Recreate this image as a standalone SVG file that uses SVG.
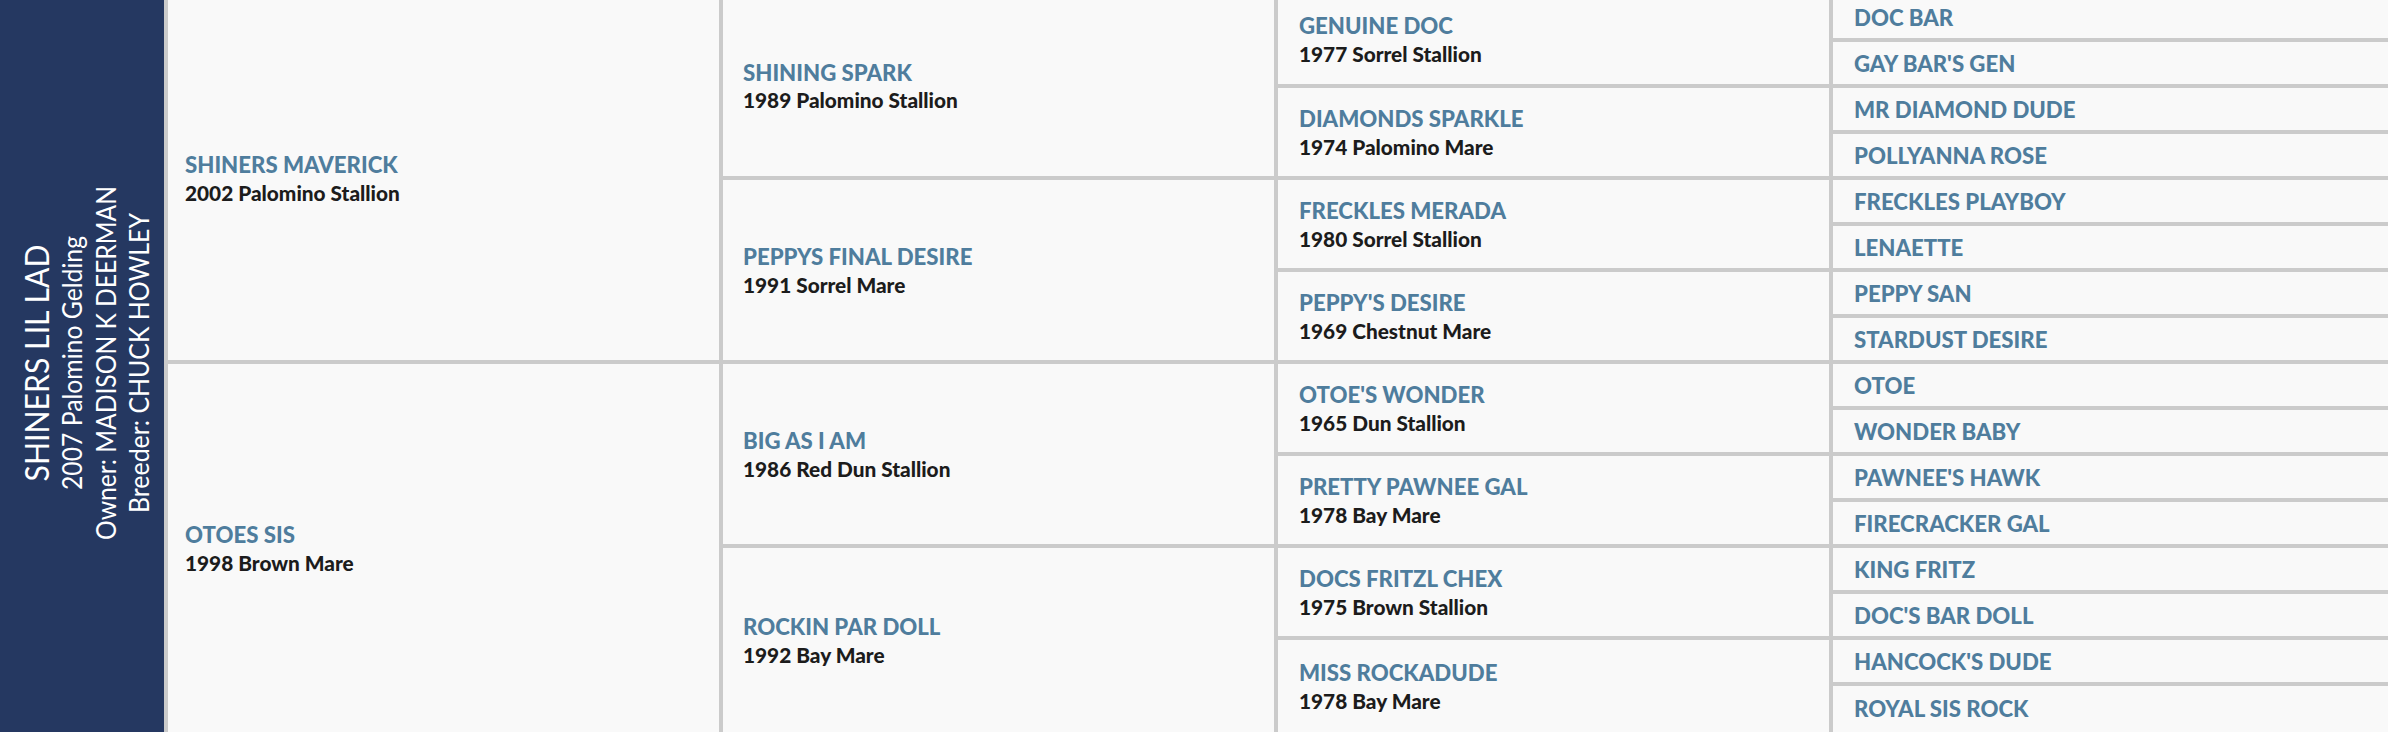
<svg xmlns="http://www.w3.org/2000/svg" width="2388" height="732" viewBox="0 0 2388 732">
<style>
.bg{fill:#f9f9f9}
.ln{fill:#cbcbcb}
.nm{font-family:Lato,"Noto Sans",sans-serif;font-weight:900;font-size:22.2px;fill:#4f7d9d}
.sb{font-family:Lato,"Noto Sans",sans-serif;font-weight:900;font-size:20.8px;fill:#1c1c1c}
.pt{font-family:Lato,"Open Sans",sans-serif;font-weight:400;fill:#ffffff;text-anchor:middle}
</style>
<rect class="bg" x="0" y="0" width="2388" height="732"/>
<g id="subject">
<rect x="0" y="0" width="164" height="732" fill="#253861"/>
<text class="pt" font-size="33" transform="translate(49,363) rotate(-90)" textLength="237" lengthAdjust="spacingAndGlyphs">SHINERS LIL LAD</text>
<text class="pt" font-size="26" transform="translate(82,363) rotate(-90)" textLength="254" lengthAdjust="spacingAndGlyphs">2007 Palomino Gelding</text>
<text class="pt" font-size="27" transform="translate(116,363) rotate(-90)" textLength="354" lengthAdjust="spacingAndGlyphs">Owner: MADISON K DEERMAN</text>
<text class="pt" font-size="27" transform="translate(149,363) rotate(-90)" textLength="300" lengthAdjust="spacingAndGlyphs">Breeder: CHUCK HOWLEY</text>
</g>
<g id="grid">
<rect class="ln" x="164" y="0" width="4" height="732"/>
<rect class="ln" x="719" y="0" width="4" height="732"/>
<rect class="ln" x="1274" y="0" width="4" height="732"/>
<rect class="ln" x="1829" y="0" width="4" height="732"/>
<rect class="ln" x="168" y="360" width="551" height="4"/>
<rect class="ln" x="723" y="176" width="551" height="4"/>
<rect class="ln" x="723" y="360" width="551" height="4"/>
<rect class="ln" x="723" y="544" width="551" height="4"/>
<rect class="ln" x="1278" y="84" width="551" height="4"/>
<rect class="ln" x="1278" y="176" width="551" height="4"/>
<rect class="ln" x="1278" y="268" width="551" height="4"/>
<rect class="ln" x="1278" y="360" width="551" height="4"/>
<rect class="ln" x="1278" y="452" width="551" height="4"/>
<rect class="ln" x="1278" y="544" width="551" height="4"/>
<rect class="ln" x="1278" y="636" width="551" height="4"/>
<rect class="ln" x="1833" y="38" width="555" height="4"/>
<rect class="ln" x="1833" y="84" width="555" height="4"/>
<rect class="ln" x="1833" y="130" width="555" height="4"/>
<rect class="ln" x="1833" y="176" width="555" height="4"/>
<rect class="ln" x="1833" y="222" width="555" height="4"/>
<rect class="ln" x="1833" y="268" width="555" height="4"/>
<rect class="ln" x="1833" y="314" width="555" height="4"/>
<rect class="ln" x="1833" y="360" width="555" height="4"/>
<rect class="ln" x="1833" y="406" width="555" height="4"/>
<rect class="ln" x="1833" y="452" width="555" height="4"/>
<rect class="ln" x="1833" y="498" width="555" height="4"/>
<rect class="ln" x="1833" y="544" width="555" height="4"/>
<rect class="ln" x="1833" y="590" width="555" height="4"/>
<rect class="ln" x="1833" y="636" width="555" height="4"/>
<rect class="ln" x="1833" y="682" width="555" height="4"/>
</g>
<g id="sire"><text class="nm" x="185" y="173">SHINERS MAVERICK</text><text class="sb" x="185" y="201">2002 Palomino Stallion</text></g>
<g id="dam"><text class="nm" x="185" y="543">OTOES SIS</text><text class="sb" x="185" y="571">1998 Brown Mare</text></g>
<g id="ss"><text class="nm" x="743" y="81">SHINING SPARK</text><text class="sb" x="743" y="108">1989 Palomino Stallion</text></g>
<g id="sd"><text class="nm" x="743" y="265">PEPPYS FINAL DESIRE</text><text class="sb" x="743" y="293">1991 Sorrel Mare</text></g>
<g id="ds"><text class="nm" x="743" y="449">BIG AS I AM</text><text class="sb" x="743" y="477">1986 Red Dun Stallion</text></g>
<g id="dd"><text class="nm" x="743" y="635">ROCKIN PAR DOLL</text><text class="sb" x="743" y="663">1992 Bay Mare</text></g>
<g id="sss"><text class="nm" x="1299" y="34">GENUINE DOC</text><text class="sb" x="1299" y="62">1977 Sorrel Stallion</text></g>
<g id="ssd"><text class="nm" x="1299" y="127">DIAMONDS SPARKLE</text><text class="sb" x="1299" y="155">1974 Palomino Mare</text></g>
<g id="sds"><text class="nm" x="1299" y="219">FRECKLES MERADA</text><text class="sb" x="1299" y="247">1980 Sorrel Stallion</text></g>
<g id="sdd"><text class="nm" x="1299" y="311">PEPPY'S DESIRE</text><text class="sb" x="1299" y="339">1969 Chestnut Mare</text></g>
<g id="dss"><text class="nm" x="1299" y="403">OTOE'S WONDER</text><text class="sb" x="1299" y="431">1965 Dun Stallion</text></g>
<g id="dsd"><text class="nm" x="1299" y="495">PRETTY PAWNEE GAL</text><text class="sb" x="1299" y="523">1978 Bay Mare</text></g>
<g id="dds"><text class="nm" x="1299" y="587">DOCS FRITZL CHEX</text><text class="sb" x="1299" y="615">1975 Brown Stallion</text></g>
<g id="ddd"><text class="nm" x="1299" y="681">MISS ROCKADUDE</text><text class="sb" x="1299" y="709">1978 Bay Mare</text></g>
<g id="g1"><text class="nm" x="1854" y="26">DOC BAR</text></g>
<g id="g2"><text class="nm" x="1854" y="72">GAY BAR'S GEN</text></g>
<g id="g3"><text class="nm" x="1854" y="118">MR DIAMOND DUDE</text></g>
<g id="g4"><text class="nm" x="1854" y="164">POLLYANNA ROSE</text></g>
<g id="g5"><text class="nm" x="1854" y="210">FRECKLES PLAYBOY</text></g>
<g id="g6"><text class="nm" x="1854" y="256">LENAETTE</text></g>
<g id="g7"><text class="nm" x="1854" y="302">PEPPY SAN</text></g>
<g id="g8"><text class="nm" x="1854" y="348">STARDUST DESIRE</text></g>
<g id="g9"><text class="nm" x="1854" y="394">OTOE</text></g>
<g id="g10"><text class="nm" x="1854" y="440">WONDER BABY</text></g>
<g id="g11"><text class="nm" x="1854" y="486">PAWNEE'S HAWK</text></g>
<g id="g12"><text class="nm" x="1854" y="532">FIRECRACKER GAL</text></g>
<g id="g13"><text class="nm" x="1854" y="578">KING FRITZ</text></g>
<g id="g14"><text class="nm" x="1854" y="624">DOC'S BAR DOLL</text></g>
<g id="g15"><text class="nm" x="1854" y="670">HANCOCK'S DUDE</text></g>
<g id="g16"><text class="nm" x="1854" y="717">ROYAL SIS ROCK</text></g>
</svg>
